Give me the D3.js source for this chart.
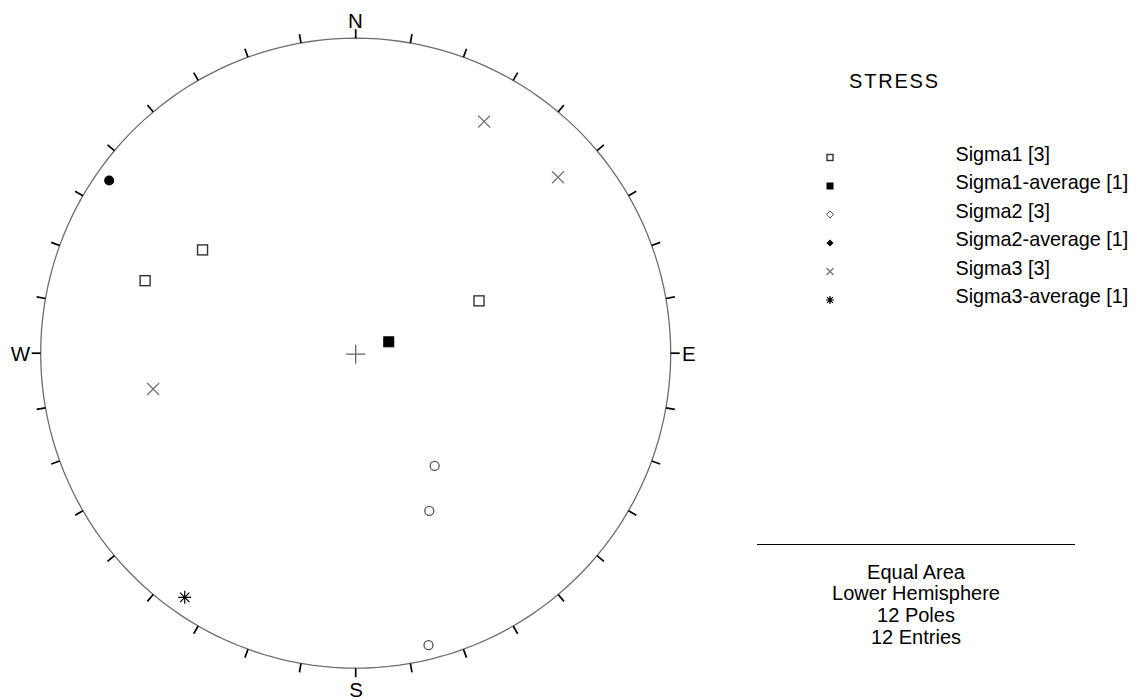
<!DOCTYPE html>
<html>
<head>
<meta charset="utf-8">
<script src="https://cdn.jsdelivr.net/npm/d3@7"></script>
<style>
  html, body { margin: 0; padding: 0; background: #fff; }
  svg { display: block; font-family: "Liberation Sans", Arial, sans-serif; }
</style>
</head>
<body>
<svg id="chart" width="1138" height="700"></svg>
<script>
// ---- Data (trend / plunge in degrees, lower hemisphere) ----
const sigma1Trend = [304, 289, 67];
const sigma1Plunge = [41, 30, 55];
const sigma1AvgTrend = [71];
const sigma1AvgPlunge = [81];
const sigma2Trend = [145, 155, 166];
const sigma2Plunge = [54, 44, 5];
const sigma2AvgTrend = [305];
const sigma2AvgPlunge = [5];
const sigma3Trend = [29, 49, 260];
const sigma3Plunge = [17, 16, 35];
const sigma3AvgTrend = [215];
const sigma3AvgPlunge = [6];

const legendTitle = "STRESS";
const legendLabels = ["Sigma1 [3]", "Sigma1-average [1]", "Sigma2 [3]", "Sigma2-average [1]", "Sigma3 [3]", "Sigma3-average [1]"];
const infoLines = ["Equal Area", "Lower Hemisphere", "12 Poles", "12 Entries"];
const directionLabels = ["N", "E", "S", "W"];
const tickAzimuths = d3.range(0, 360, 10);

// ---- Layout ----
const cx = 355.7, cy = 353.2, R = 315;
const svg = d3.select("#chart");

const proj = d3.geoAzimuthalEqualArea()
  .rotate([0, -90])
  .scale(R / Math.SQRT2)
  .translate([cx, cy]);

const toLonLat = (t, p) => [180 - t, p];
const pt = (t, p) => proj(toLonLat(t, p));

const edge = (az, extra) => {
  const a = az * Math.PI / 180;
  const r = R + extra;
  return [cx + r * Math.sin(a), cy - r * Math.cos(a)];
};

// Primitive circle
svg.append("path")
  .datum({type: "Sphere"})
  .attr("d", d3.geoPath(d3.geoAzimuthalEqualArea().rotate([0, -90]).scale(R / Math.SQRT2).translate([cx, cy]).clipAngle(90)))
  .attr("fill", "none")
  .attr("stroke", "#6e6e6e")
  .attr("stroke-width", 1.3);

// Ticks
svg.append("g").selectAll("line").data(tickAzimuths).join("line")
  .attr("x1", d => edge(d, 0)[0]).attr("y1", d => edge(d, 0)[1])
  .attr("x2", d => edge(d, 9)[0]).attr("y2", d => edge(d, 9)[1])
  .attr("stroke", "#000").attr("stroke-width", 1.7);

// Direction labels
const dirPos = {
  N: [355.5, 28, "middle"],
  E: [682, 361, "start"],
  S: [356, 697, "middle"],
  W: [30, 361, "end"]
};
svg.append("g").selectAll("text").data(directionLabels).join("text")
  .attr("x", d => dirPos[d][0]).attr("y", d => dirPos[d][1])
  .attr("text-anchor", d => dirPos[d][2])
  .attr("font-size", 20.5).attr("fill", "#000")
  .text(d => d);

// Center cross
svg.append("path")
  .attr("d", `M${cx - 9.5},${cy + 1}H${cx + 9.5}M${cx},${cy - 8.5}V${cy + 10.5}`)
  .attr("stroke", "#666").attr("stroke-width", 1.3).attr("fill", "none");

function sym(g, type, x, y, s) {
  if (type === "openSquare") {
    g.append("rect").attr("x", x - s / 2).attr("y", y - s / 2).attr("width", s).attr("height", s)
      .attr("fill", "#fff").attr("stroke", "#333").attr("stroke-width", 1.4);
  } else if (type === "fillSquare") {
    g.append("rect").attr("x", x - s / 2).attr("y", y - s / 2).attr("width", s).attr("height", s)
      .attr("fill", "#000").attr("stroke", "#000").attr("stroke-width", 1);
  } else if (type === "openCircle") {
    g.append("circle").attr("cx", x).attr("cy", y).attr("r", s / 2)
      .attr("fill", "#fff").attr("stroke", "#555").attr("stroke-width", 1.3);
  } else if (type === "fillCircle") {
    g.append("circle").attr("cx", x).attr("cy", y).attr("r", s / 2).attr("fill", "#000");
  } else if (type === "openDiamond") {
    g.append("path").attr("d", `M${x},${y - s / 2}L${x + s / 2},${y}L${x},${y + s / 2}L${x - s / 2},${y}Z`)
      .attr("fill", "#fff").attr("stroke", "#555").attr("stroke-width", 1);
  } else if (type === "fillDiamond") {
    g.append("path").attr("d", `M${x},${y - s / 2}L${x + s / 2},${y}L${x},${y + s / 2}L${x - s / 2},${y}Z`)
      .attr("fill", "#000");
  } else if (type === "cross") {
    const h = s / 2;
    g.append("path").attr("d", `M${x - h},${y - h}L${x + h},${y + h}M${x + h},${y - h}L${x - h},${y + h}`)
      .attr("stroke", "#777").attr("stroke-width", 1.3).attr("fill", "none");
  } else if (type === "asterisk") {
    const h = s / 2, d = h * 0.72;
    g.append("path").attr("d", `M${x - h},${y}H${x + h}M${x},${y - h}V${y + h}M${x - d},${y - d}L${x + d},${y + d}M${x + d},${y - d}L${x - d},${y + d}`)
      .attr("stroke", "#000").attr("stroke-width", 1.2).attr("fill", "none");
  }
}

const series = [
  {tr: sigma1Trend, pl: sigma1Plunge, type: "openSquare", size: 10},
  {tr: sigma1AvgTrend, pl: sigma1AvgPlunge, type: "fillSquare", size: 10},
  {tr: sigma2Trend, pl: sigma2Plunge, type: "openCircle", size: 9},
  {tr: sigma2AvgTrend, pl: sigma2AvgPlunge, type: "fillCircle", size: 10},
  {tr: sigma3Trend, pl: sigma3Plunge, type: "cross", size: 12},
  {tr: sigma3AvgTrend, pl: sigma3AvgPlunge, type: "asterisk", size: 13}
];

const gPts = svg.append("g");
series.forEach(s => {
  s.tr.forEach((t, i) => {
    const [x, y] = pt(t, s.pl[i]);
    sym(gPts, s.type, x, y, s.size);
  });
});

// Legend
svg.append("text").attr("x", 849).attr("y", 88).attr("font-size", 20).attr("letter-spacing", 1.8)
  .attr("fill", "#000").text(legendTitle);

const legendTypes = ["openSquare", "fillSquare", "openDiamond", "fillDiamond", "cross", "asterisk"];
const legendSizes = [6, 6, 7, 7, 7, 8];
const rowY = d3.scalePoint().domain(d3.range(legendLabels.length)).range([157.5, 300]);
const gLeg = svg.append("g");
legendLabels.forEach((lab, i) => {
  const y = rowY(i);
  sym(gLeg, legendTypes[i], 830, y, legendSizes[i]);
  gLeg.append("text").attr("x", 955.5).attr("y", y + 3).attr("font-size", 19.8).attr("fill", "#000").text(lab);
});

// Info block
svg.append("line").attr("x1", 757).attr("x2", 1075).attr("y1", 544.5).attr("y2", 544.5)
  .attr("stroke", "#000").attr("stroke-width", 1);
svg.append("g").selectAll("text").data(infoLines).join("text")
  .attr("x", 916).attr("y", (d, i) => 578.5 + i * 21.7)
  .attr("text-anchor", "middle").attr("font-size", 20).attr("fill", "#000")
  .text(d => d);
</script>
</body>
</html>
